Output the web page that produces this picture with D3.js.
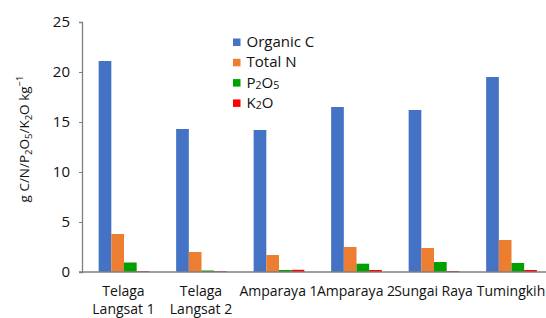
<!DOCTYPE html>
<html><head><meta charset="utf-8">
<script src="https://cdn.jsdelivr.net/npm/d3@7"></script>
<style>
body{margin:0;background:#fff;}
text{font-family:"Open Sans","Liberation Sans",sans-serif;fill:#111;}
</style></head>
<body><svg id="c" width="546" height="318"></svg>
<script>
const categories = ["Telaga Langsat 1","Telaga Langsat 2","Amparaya 1","Amparaya 2","Sungai Raya","Tumingkih"];
const organicC = [21.1, 14.3, 14.2, 16.5, 16.2, 19.5];
const totalN   = [3.8, 2.0, 1.7, 2.5, 2.4, 3.2];
const p2o5     = [0.95, 0.15, 0.2, 0.83, 1.0, 0.9];
const k2o      = [0.08, 0.08, 0.22, 0.2, 0.1, 0.2];
const yTicks   = [0, 5, 10, 15, 20, 25];
const seriesNames = [["Organic C"],["Total N"],["P","2","O","5"],["K","2","O"]];
const colors = ["#4472C4","#ED7D31","#00A000","#FF0000"];
const series = [organicC, totalN, p2o5, k2o];

const svg = d3.select("#c");
const y = d3.scaleLinear().domain([0,25]).range([272,22]);
const x = d3.scaleBand().domain(categories).range([85.25,550.25]).padding(0);
const xs = d3.scaleBand().domain(d3.range(4)).range([13.4, 64.1]).padding(0);

// bars
series.forEach((vals, si) => {
  svg.append("g").selectAll("rect").data(vals).join("rect")
    .attr("x", (d,i) => x(categories[i]) + xs(si))
    .attr("width", xs.bandwidth())
    .attr("y", d => y(d))
    .attr("height", d => y(0) - y(d))
    .attr("fill", colors[si]);
});

// y axis
const ya = svg.append("g").attr("transform","translate(82,0)")
  .call(d3.axisLeft(y).tickValues(yTicks).tickSize(3).tickPadding(9));
ya.select(".domain").attr("stroke","#7f7f7f").attr("stroke-width",1.3);
ya.selectAll(".tick line").attr("stroke","#7f7f7f");
ya.selectAll(".tick text").attr("font-size",15).attr("fill","#111")
  .attr("font-family","'Open Sans','Liberation Sans',sans-serif");

// x axis
const xa = svg.append("g").attr("transform","translate(0,272)")
  .call(d3.axisBottom(x).tickSize(0).tickFormat(""));
xa.select(".domain").remove();
svg.append("line").attr("x1",79).attr("x2",546).attr("y1",y(0)).attr("y2",y(0))
  .attr("stroke","#7f7f7f").attr("stroke-width",1.5);

// x labels
const xLabelLines = {"Telaga Langsat 1":["Telaga","Langsat 1"],"Telaga Langsat 2":["Telaga","Langsat 2"]};
categories.forEach(c => {
  const lines = xLabelLines[c] || [c];
  const t = svg.append("text").attr("text-anchor","middle").attr("font-size",14)
    .attr("x", x(c) + x.bandwidth()/2 - 0.5).attr("y", 296);
  lines.forEach((l,i) => t.append("tspan").attr("x", x(c) + x.bandwidth()/2 - 0.5).attr("dy", i===0?0:18).text(l));
});

// y label
const yl = svg.append("text").attr("font-size",13.5).attr("text-anchor","middle")
  .attr("transform","translate(29,139) rotate(-90)");
const parts = [["g C/N/P",0],["2",1],["O",0],["5",1],["/K",0],["2",1],["O kg",0],["−1",2]];
parts.forEach(([s,t]) => {
  const ts = yl.append("tspan").text(s);
  if (t===1) ts.attr("font-size",9.5).attr("baseline-shift","-3");
  if (t===2) ts.attr("font-size",9.5).attr("baseline-shift","6");
});

// legend
const lg = svg.append("g");
seriesNames.forEach((parts, i) => {
  const yy = 42 + i*20.3;
  lg.append("rect").attr("x",233).attr("y",yy-3.5).attr("width",7.5).attr("height",7.5).attr("fill",colors[i]);
  const t = lg.append("text").attr("x",246.5).attr("y",yy+5).attr("font-size",15);
  if (parts.length===1) t.text(parts[0]);
  else parts.forEach((p, j) => {
    const ts = t.append("tspan").text(p);
    if (j%2===1) ts.attr("font-size",10.5).attr("baseline-shift","-1");
  });
});
</script></body></html>
